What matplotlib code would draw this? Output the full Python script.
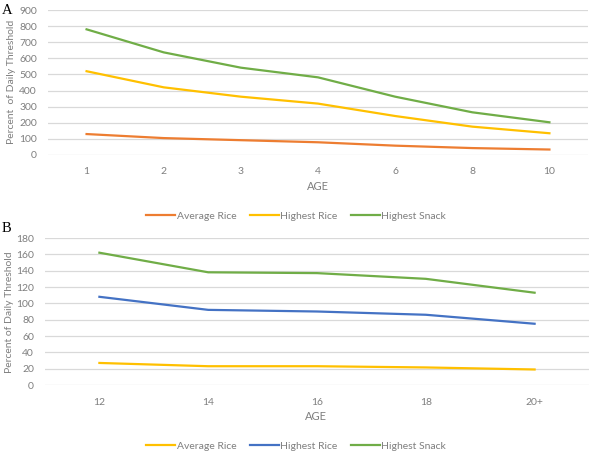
import matplotlib.pyplot as plt
import numpy as np

plt.rcParams['font.family'] = ['Lato', 'DejaVu Sans']

# panel A
ages_a = ["1", "2", "3", "4", "6", "8", "10"]
avg_rice_a = [130, 105, 92, 79, 58, 43, 34]
high_rice_a = [520, 420, 362, 319, 242, 176, 135]
high_snack_a = [780, 637, 542, 482, 362, 265, 203]

# panel B
ages_b = ["12", "14", "16", "18", "20+"]
avg_rice_b = [27, 23, 23, 21.5, 19]
high_rice_b = [108, 92, 90, 86, 75]
high_snack_b = [162, 138, 137, 130, 113]

gray = '#7f7f7f'
grid = '#d9d9d9'

fig = plt.figure(figsize=(5.93, 4.65), dpi=100)
W, H = 593, 465


def make_axes(left, right, top, bottom):
    return fig.add_axes([left / W, 1 - bottom / H, (right - left) / W, (bottom - top) / H])


def style(ax, cats, ymax, ystep):
    n = len(cats)
    ax.set_xlim(-0.5, n - 0.5)
    ax.set_ylim(0, ymax)
    ax.set_xticks(np.arange(n))
    ax.set_xticklabels(cats)
    ax.set_yticks(np.arange(0, ymax + 1, ystep))
    ax.grid(axis='y', color=grid, linewidth=0.9)
    ax.set_axisbelow(True)
    for s in ax.spines.values():
        s.set_visible(False)
    ax.tick_params(length=0, colors=gray, labelsize=7.5)
    ax.tick_params(axis='x', pad=9)
    ax.tick_params(axis='y', pad=8)


# --- A ---
axa = make_axes(48, 588, 10, 155)
xa = np.arange(len(ages_a))
axa.plot(xa, avg_rice_a, color='#ed7d31', lw=1.6, label='Average Rice')
axa.plot(xa, high_rice_a, color='#ffc000', lw=1.6, label='Highest Rice')
axa.plot(xa, high_snack_a, color='#70ad47', lw=1.6, label='Highest Snack')
style(axa, ages_a, 900, 100)
fig.text(318 / W, 1 - 186 / H, 'AGE', color=gray, fontsize=8, ha='center', va='center')
fig.text(12 / W, 1 - 82 / H, 'Percent  of Daily Threshold', color=gray, fontsize=7.5,
         rotation=90, ha='center', va='center')
fig.text(2 / W, 1 - 10 / H, 'A', family='Liberation Serif', fontsize=10.5, ha='left', va='center')
fig.legend(handles=axa.get_lines(), loc='center', bbox_to_anchor=(296 / W, 1 - 216 / H),
           ncol=3, frameon=False, fontsize=7.5, labelcolor=gray, handlelength=2.8,
           handletextpad=0.1, columnspacing=1.3)

# --- B ---
axb = make_axes(45, 589, 238, 385)
xb = np.arange(len(ages_b))
axb.plot(xb, avg_rice_b, color='#ffc000', lw=1.6, label='Average Rice')
axb.plot(xb, high_rice_b, color='#4472c4', lw=1.6, label='Highest Rice')
axb.plot(xb, high_snack_b, color='#70ad47', lw=1.6, label='Highest Snack')
style(axb, ages_b, 180, 20)
fig.text(316 / W, 1 - 416 / H, 'AGE', color=gray, fontsize=8, ha='center', va='center')
fig.text(10 / W, 1 - 312 / H, 'Percent of Daily Threshold', color=gray, fontsize=7.5,
         rotation=90, ha='center', va='center')
fig.text(2 / W, 1 - 228 / H, 'B', family='Liberation Serif', fontsize=10.5, ha='left', va='center')
fig.legend(handles=axb.get_lines(), loc='center', bbox_to_anchor=(296 / W, 1 - 446 / H),
           ncol=3, frameon=False, fontsize=7.5, labelcolor=gray, handlelength=2.8,
           handletextpad=0.1, columnspacing=1.3)

fig.savefig('out.png', dpi=100)
